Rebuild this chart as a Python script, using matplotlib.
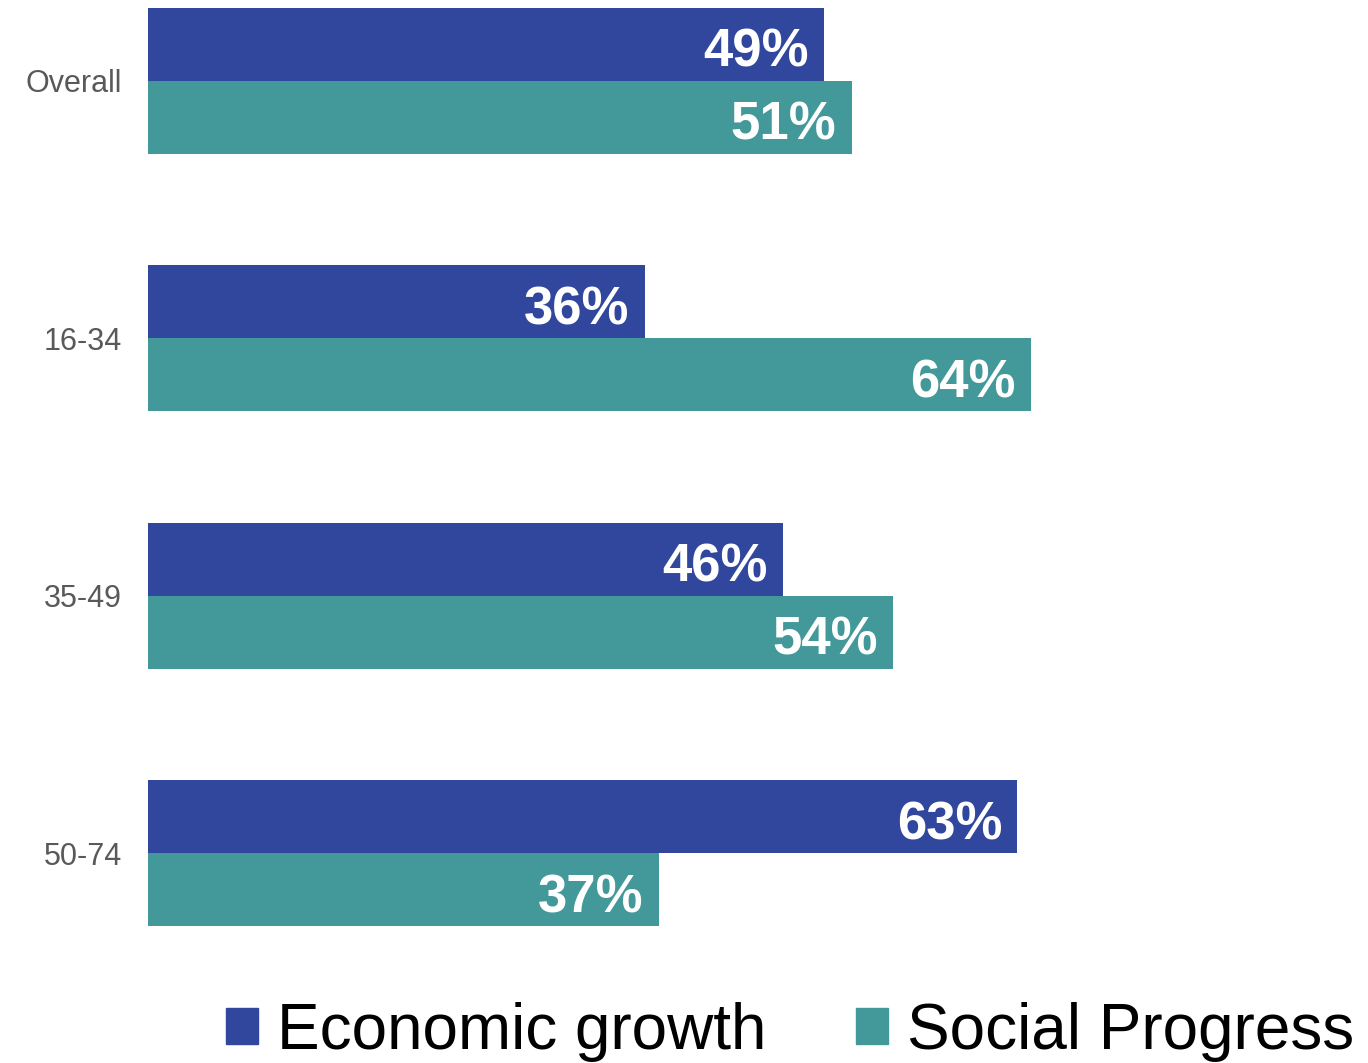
import matplotlib.pyplot as plt
from matplotlib.patches import Patch
import numpy as np

# ── data ──────────────────────────────────────────────────────────────────────
categories = ["Overall", "16-34", "35-49", "50-74"]
economic = [49, 36, 46, 63]
social = [51, 64, 54, 37]
series_names = ["Economic growth", "Social Progress"]

C_ECON = "#31479D"
C_SOC = "#43999A"

plt.rcParams["font.family"] = ["Liberation Sans", "DejaVu Sans"]

# ── plot ──────────────────────────────────────────────────────────────────────
fig = plt.figure(figsize=(13.68, 10.63), dpi=100)
ax = fig.add_axes([148 / 1368, (1063 - 970) / 1063, 1 - 148 / 1368, 970 / 1063])

y = np.arange(len(categories))
h = 73 / 257.5

b1 = ax.barh(y - h / 2, economic, height=h, color=C_ECON)
b2 = ax.barh(y + h / 2, social, height=h, color=C_SOC)

for bars, vals in [(b1, economic), (b2, social)]:
    for bar, v in zip(bars, vals):
        ax.annotate(f"{v}%", (v, bar.get_y() + bar.get_height() / 2),
                    xytext=(-11, -2), textcoords="offset points",
                    ha="right", va="center_baseline", color="white",
                    fontsize=38, fontweight="bold")

ax.set_xlim(0, (1368 - 148) / 13.8)
ax.set_ylim(970 / 257.5 - 81 / 257.5, -81 / 257.5)
ax.set_yticks(y)
ax.set_yticklabels(categories, fontsize=22, color="#595959")
ax.tick_params(axis="y", length=0, pad=19)
ax.set_xticks([])
for s in ax.spines.values():
    s.set_visible(False)

handles = [Patch(color=C_ECON), Patch(color=C_SOC)]
fig.legend(handles, series_names, loc="lower center", ncol=2,
           bbox_to_anchor=(0.5775, -0.053), frameon=False, fontsize=46,
           handlelength=0.5, handleheight=0.5, handletextpad=0.3,
           columnspacing=1.4)

fig.savefig("out.png", dpi=100)
